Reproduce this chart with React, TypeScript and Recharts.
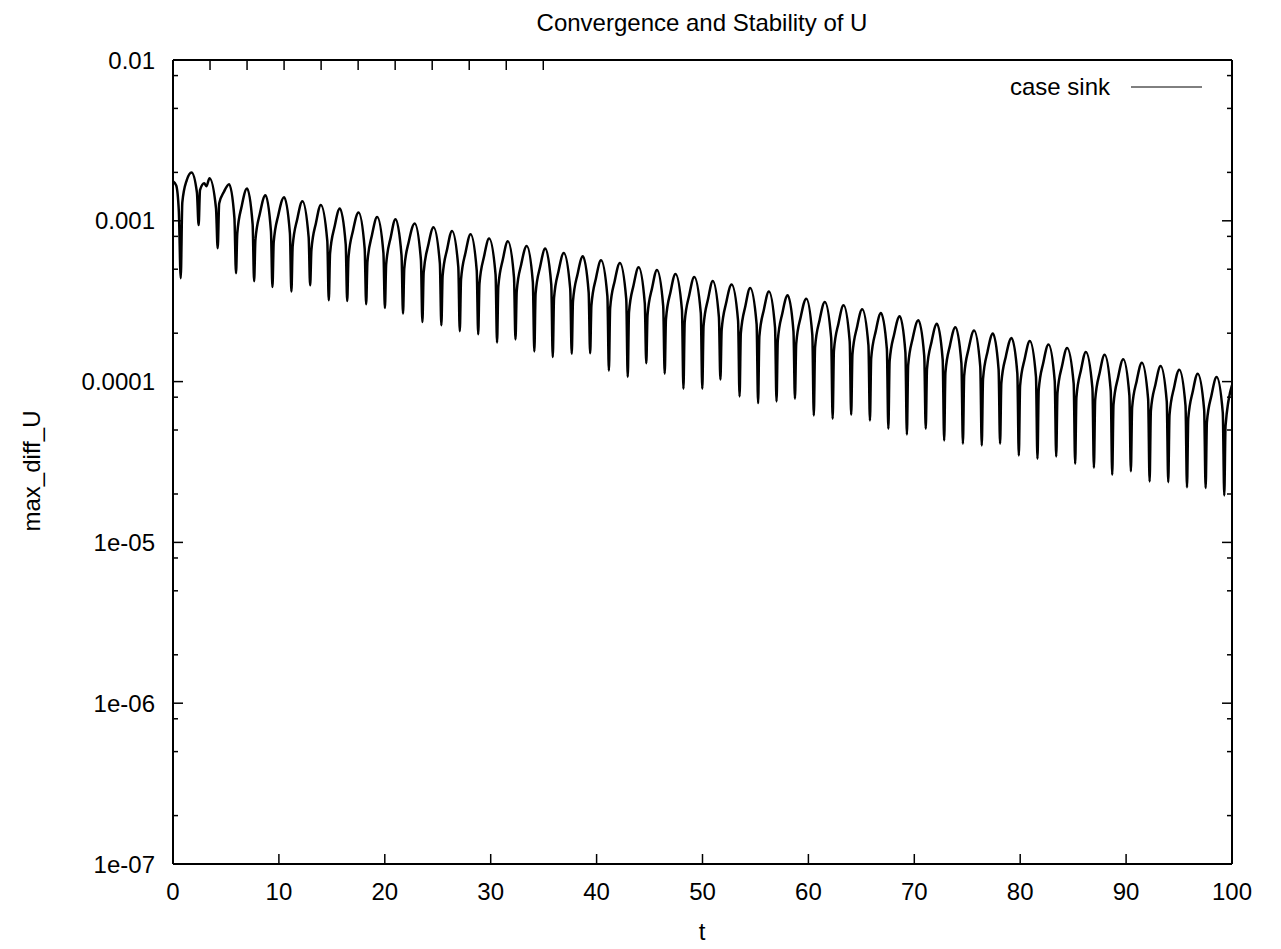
import { LineChart, Line, XAxis, YAxis, Legend } from "recharts";

const FONT = "'Liberation Sans', Arial, Helvetica, sans-serif";

// t, max_diff_U (log axis)
const startup: [number, number][] = [
  [0, 1.76e-3], [0.3, 1.66e-3], [0.55, 1.15e-3], [0.73, 4.4e-4],
  [0.88, 1.3e-3], [1.3, 1.79e-3], [1.75, 2.0e-3], [2.26, 1.5e-3], [2.42, 9.4e-4],
  [2.55, 1.55e-3], [2.95, 1.71e-3], [3.15, 1.64e-3], [3.45, 1.84e-3], [4.06, 1.2e-3], [4.22, 6.75e-4],
  [4.36, 1.28e-3], [4.8, 1.51e-3], [5.3, 1.69e-3], [5.8, 1.04e-3], [5.95, 4.72e-4]
];

const cycles06to20: [number, number][] = [
  [6.07, 8.34e-4], [6.48, 1.227e-3], [6.99, 1.589e-3], [7.52, 9.49e-4], [7.66, 4.21e-4],
  [7.78, 7.57e-4], [8.21, 1.114e-3], [8.73, 1.443e-3], [9.25, 8.61e-4], [9.39, 3.88e-4],
  [9.51, 7.36e-4], [9.94, 1.083e-3], [10.49, 1.403e-3], [11.04, 8.37e-4], [11.18, 3.63e-4],
  [11.3, 6.95e-4], [11.73, 1.023e-3], [12.22, 1.324e-3], [12.81, 7.9e-4], [12.95, 3.97e-4],
  [13.07, 6.59e-4], [13.5, 9.7e-4], [13.96, 1.256e-3], [14.57, 7.49e-4], [14.71, 3.2e-4],
  [14.83, 6.26e-4], [15.26, 9.21e-4], [15.75, 1.193e-3], [16.31, 7.12e-4], [16.45, 3.17e-4],
  [16.57, 5.91e-4], [17.0, 8.7e-4], [17.52, 1.126e-3], [18.1, 6.72e-4], [18.24, 3.03e-4],
  [18.36, 5.55e-4], [18.79, 8.16e-4], [19.28, 1.057e-3], [19.87, 6.31e-4], [20.01, 2.87e-4]
];

const cycles20to40: [number, number][] = [
  [20.13, 5.37e-4], [20.56, 7.9e-4], [21.01, 1.023e-3], [21.58, 6.1e-4], [21.72, 2.65e-4],
  [21.84, 5.05e-4], [22.27, 7.43e-4], [22.82, 9.62e-4], [23.41, 5.74e-4], [23.55, 2.35e-4],
  [23.67, 4.78e-4], [24.1, 7.04e-4], [24.6, 9.12e-4], [25.2, 5.44e-4], [25.34, 2.24e-4],
  [25.46, 4.54e-4], [25.89, 6.68e-4], [26.35, 8.65e-4], [26.94, 5.16e-4], [27.08, 2.06e-4],
  [27.2, 4.33e-4], [27.63, 6.37e-4], [28.1, 8.25e-4], [28.68, 4.92e-4], [28.82, 1.97e-4],
  [28.94, 4.07e-4], [29.37, 5.99e-4], [29.85, 7.76e-4], [30.46, 4.63e-4], [30.6, 1.75e-4],
  [30.72, 3.91e-4], [31.15, 5.76e-4], [31.62, 7.46e-4], [32.2, 4.45e-4], [32.34, 1.83e-4],
  [32.46, 3.66e-4], [32.89, 5.39e-4], [33.4, 6.98e-4], [33.98, 4.16e-4], [34.12, 1.54e-4],
  [34.24, 3.53e-4], [34.67, 5.19e-4], [35.15, 6.72e-4], [35.72, 4.01e-4], [35.86, 1.42e-4],
  [35.98, 3.31e-4], [36.41, 4.87e-4], [36.9, 6.31e-4], [37.51, 3.77e-4], [37.65, 1.49e-4],
  [37.77, 3.16e-4], [38.2, 4.65e-4], [38.7, 6.02e-4], [39.25, 3.59e-4], [39.39, 1.5e-4]
];

const cycles40to60: [number, number][] = [
  [39.51, 2.98e-4], [39.94, 4.39e-4], [40.42, 5.68e-4], [41.02, 3.39e-4], [41.16, 1.17e-4],
  [41.28, 2.87e-4], [41.71, 4.23e-4], [42.2, 5.47e-4], [42.8, 3.26e-4], [42.94, 1.07e-4],
  [43.06, 2.7e-4], [43.49, 3.97e-4], [43.97, 5.14e-4], [44.55, 3.07e-4], [44.69, 1.3e-4],
  [44.81, 2.6e-4], [45.24, 3.82e-4], [45.7, 4.95e-4], [46.29, 2.95e-4], [46.43, 1.12e-4],
  [46.55, 2.45e-4], [46.98, 3.61e-4], [47.45, 4.67e-4], [48.06, 2.79e-4], [48.2, 9.03e-5],
  [48.32, 2.35e-4], [48.75, 3.45e-4], [49.22, 4.47e-4], [49.84, 2.67e-4], [49.98, 9.03e-5],
  [50.1, 2.22e-4], [50.53, 3.27e-4], [50.97, 4.23e-4], [51.55, 2.52e-4], [51.69, 1.03e-4],
  [51.81, 2.1e-4], [52.24, 3.1e-4], [52.75, 4.01e-4], [53.36, 2.39e-4], [53.5, 8.09e-5],
  [53.62, 2.0e-4], [54.05, 2.95e-4], [54.5, 3.82e-4], [55.11, 2.28e-4], [55.25, 7.35e-5],
  [55.37, 1.91e-4], [55.8, 2.81e-4], [56.27, 3.64e-4], [56.85, 2.17e-4], [56.99, 7.53e-5],
  [57.11, 1.8e-4], [57.54, 2.66e-4], [58.04, 3.44e-4], [58.59, 2.05e-4], [58.73, 7.83e-5]
];

const cycles60to80: [number, number][] = [
  [58.85, 1.72e-4], [59.28, 2.53e-4], [59.8, 3.28e-4], [60.37, 1.96e-4], [60.51, 6.16e-5],
  [60.63, 1.64e-4], [61.06, 2.42e-4], [61.55, 3.13e-4], [62.15, 1.87e-4], [62.29, 5.87e-5],
  [62.41, 1.56e-4], [62.84, 2.3e-4], [63.32, 2.98e-4], [63.9, 1.78e-4], [64.04, 6.22e-5],
  [64.16, 1.48e-4], [64.59, 2.18e-4], [65.08, 2.82e-4], [65.67, 1.68e-4], [65.81, 5.73e-5],
  [65.93, 1.4e-4], [66.36, 2.06e-4], [66.85, 2.67e-4], [67.41, 1.59e-4], [67.55, 5.09e-5],
  [67.67, 1.34e-4], [68.1, 1.97e-4], [68.62, 2.55e-4], [69.16, 1.52e-4], [69.3, 4.69e-5],
  [69.42, 1.26e-4], [69.85, 1.86e-4], [70.38, 2.41e-4], [70.94, 1.44e-4], [71.08, 5.09e-5],
  [71.2, 1.2e-4], [71.63, 1.77e-4], [72.13, 2.29e-4], [72.68, 1.37e-4], [72.82, 4.3e-5],
  [72.94, 1.14e-4], [73.37, 1.68e-4], [73.88, 2.18e-4], [74.45, 1.3e-4], [74.59, 4.11e-5],
  [74.71, 1.09e-4], [75.14, 1.61e-4], [75.64, 2.08e-4], [76.23, 1.24e-4], [76.37, 4.01e-5],
  [76.49, 1.04e-4], [76.92, 1.54e-4], [77.42, 1.99e-4], [77.96, 1.19e-4], [78.1, 4.11e-5]
];

const cycles80to100: [number, number][] = [
  [78.22, 9.8e-5], [78.65, 1.44e-4], [79.18, 1.87e-4], [79.73, 1.12e-4], [79.87, 3.47e-5],
  [79.99, 9.4e-5], [80.42, 1.38e-4], [80.91, 1.79e-4], [81.49, 1.07e-4], [81.63, 3.31e-5],
  [81.75, 8.9e-5], [82.18, 1.31e-4], [82.67, 1.7e-4], [83.26, 1.01e-4], [83.4, 3.42e-5],
  [83.52, 8.5e-5], [83.95, 1.25e-4], [84.43, 1.62e-4], [85.05, 9.7e-5], [85.19, 3.08e-5],
  [85.31, 8.0e-5], [85.74, 1.18e-4], [86.2, 1.53e-4], [86.82, 9.1e-5], [86.96, 2.91e-5],
  [87.08, 7.7e-5], [87.51, 1.14e-4], [87.97, 1.47e-4], [88.55, 8.8e-5], [88.69, 2.63e-5],
  [88.81, 7.2e-5], [89.24, 1.06e-4], [89.73, 1.375e-4], [90.31, 8.2e-5], [90.45, 2.77e-5],
  [90.57, 6.9e-5], [91.0, 1.01e-4], [91.49, 1.311e-4], [92.08, 7.8e-5], [92.22, 2.39e-5],
  [92.34, 6.6e-5], [92.77, 9.6e-5], [93.26, 1.249e-4], [93.84, 7.5e-5], [93.98, 2.37e-5],
  [94.1, 6.2e-5], [94.53, 9.2e-5], [95.02, 1.186e-4], [95.61, 7.1e-5], [95.75, 2.2e-5],
  [95.87, 5.9e-5], [96.3, 8.7e-5], [96.76, 1.12e-4], [97.37, 6.7e-5], [97.51, 2.18e-5],
  [97.63, 5.6e-5], [98.06, 8.2e-5], [98.55, 1.067e-4], [99.13, 6.4e-5], [99.27, 1.96e-5],
  [99.39, 5.3e-5], [100, 9.5e-5]
];

const xTicks = [0, 10, 20, 30, 40, 50, 60, 70, 80, 90, 100];
const yMajorTicks = [1e-7, 1e-6, 1e-5, 1e-4, 1e-3, 1e-2];
const yMajorLabels = ["1e-07", "1e-06", "1e-05", "0.0001", "0.001", "0.01"];
const yMinorTicks = [
  2e-7, 5e-7, 8e-7, 2e-6, 5e-6, 8e-6, 2e-5, 5e-5, 8e-5,
  2e-4, 5e-4, 8e-4, 2e-3, 5e-3, 8e-3
];
const yTicks = [...yMajorTicks, ...yMinorTicks];

const data = [
  ...startup,
  ...cycles06to20,
  ...cycles20to40,
  ...cycles40to60,
  ...cycles60to80,
  ...cycles80to100
].map(([t, u]) => ({ t, u }));

const MAJOR = 10;
const MINOR = 5;

const BottomTick = (props: any) => {
  const { x, y, payload } = props;
  return (
    <g>
      <line x1={x} x2={x} y1={y} y2={y - MAJOR} stroke="#000" strokeWidth={1.5} />
      <text x={x} y={y + 36} textAnchor="middle" fontSize={24} fontFamily={FONT} fill="#000">
        {payload.value}
      </text>
    </g>
  );
};

const TopTick = (props: any) => {
  const { x, y } = props;
  return <line x1={x} x2={x} y1={y} y2={y + MAJOR} stroke="#000" strokeWidth={1.5} />;
};

const LeftTick = (props: any) => {
  const { x, y, payload } = props;
  const i = yMajorTicks.indexOf(payload.value);
  if (i < 0) {
    return <line x1={x} x2={x + MINOR} y1={y} y2={y} stroke="#000" strokeWidth={1.5} />;
  }
  return (
    <g>
      <line x1={x} x2={x + MAJOR} y1={y} y2={y} stroke="#000" strokeWidth={1.5} />
      <text x={x - 18} y={y + 8.6} textAnchor="end" fontSize={24} fontFamily={FONT} fill="#000">
        {yMajorLabels[i]}
      </text>
    </g>
  );
};

const RightTick = (props: any) => {
  const { x, y, payload } = props;
  const len = yMajorTicks.includes(payload.value) ? MAJOR : MINOR;
  return <line x1={x} x2={x - len} y1={y} y2={y} stroke="#000" strokeWidth={1.5} />;
};

const LegendBox = () => (
  <div style={{ display: "flex", alignItems: "center", fontFamily: FONT, fontSize: 24 }}>
    <span style={{ width: 110, textAlign: "right", lineHeight: "27px" }}>case sink</span>
    <svg width={92} height={6} style={{ display: "block" }}>
      <line x1={21} x2={92} y1={3} y2={3} stroke="#000" strokeWidth={1} />
    </svg>
  </div>
);

const frame = { stroke: "#000", strokeWidth: 2 };

export default function App() {
  return (
    <div
      style={{
        position: "absolute",
        left: 0,
        top: 0,
        width: 1281,
        height: 949,
        background: "#fff",
        fontFamily: FONT,
        color: "#000"
      }}
    >
      <div
        style={{
          position: "absolute",
          left: 402,
          top: 11,
          width: 600,
          textAlign: "center",
          fontSize: 24,
          lineHeight: "24px"
        }}
      >
        Convergence and Stability of U
      </div>
      <div
        style={{
          position: "absolute",
          left: -68,
          top: 459,
          width: 200,
          height: 24,
          textAlign: "center",
          fontSize: 24,
          lineHeight: "24px",
          transform: "rotate(-90deg)"
        }}
      >
        max_diff_U
      </div>
      <div
        style={{
          position: "absolute",
          left: 602,
          top: 920,
          width: 200,
          textAlign: "center",
          fontSize: 24,
          lineHeight: "24px"
        }}
      >
        t
      </div>
      <LineChart
        width={1281}
        height={949}
        data={data}
        margin={{ top: 0, right: 0, bottom: 0, left: 0 }}
      >
        <XAxis
          dataKey="t"
          type="number"
          domain={[0, 100]}
          ticks={xTicks}
          interval={0}
          height={85}
          tickSize={0}
          tickMargin={0}
          tickLine={false}
          axisLine={frame}
          tick={BottomTick}
          allowDataOverflow
        />
        <XAxis
          xAxisId="top"
          orientation="top"
          type="number"
          domain={[0, 100]}
          ticks={xTicks}
          interval={0}
          height={60}
          tickSize={0}
          tickMargin={0}
          tickLine={false}
          axisLine={frame}
          tick={TopTick}
          allowDataOverflow
        />
        <YAxis
          type="number"
          scale="log"
          domain={[1e-7, 1e-2]}
          ticks={yTicks}
          interval={0}
          width={173}
          tickSize={0}
          tickMargin={0}
          tickLine={false}
          axisLine={frame}
          tick={LeftTick}
          allowDataOverflow
        />
        <YAxis
          yAxisId="right"
          orientation="right"
          type="number"
          scale="log"
          domain={[1e-7, 1e-2]}
          ticks={yTicks}
          interval={0}
          width={49}
          tickSize={0}
          tickMargin={0}
          tickLine={false}
          axisLine={frame}
          tick={RightTick}
          allowDataOverflow
        />
        <Legend
          layout="horizontal"
          verticalAlign="middle"
          align="center"
          content={<LegendBox />}
          wrapperStyle={{ left: 1000, top: 73, width: 210, height: 27 }}
        />
        <Line
          type="monotone"
          dataKey="u"
          name="case sink"
          stroke="#000"
          strokeWidth={2.5}
          dot={false}
          activeDot={false}
          isAnimationActive={false}
        />
      </LineChart>
    </div>
  );
}
